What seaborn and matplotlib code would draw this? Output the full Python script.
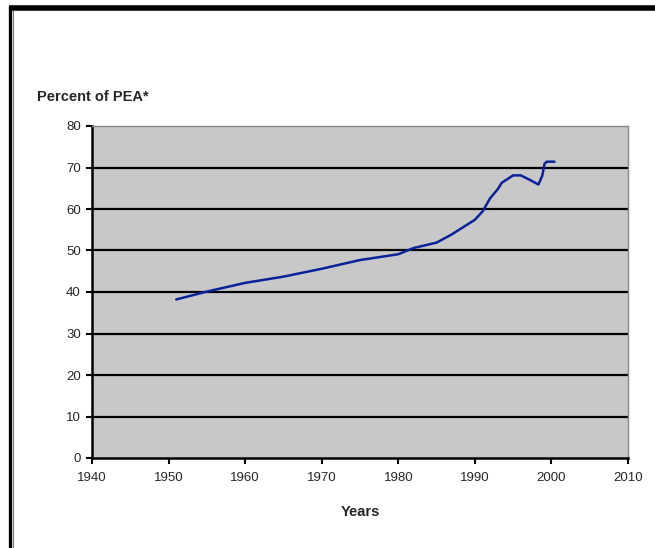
import matplotlib
matplotlib.use("Agg")
import matplotlib.pyplot as plt
from matplotlib.lines import Line2D
import seaborn as sns
import pandas as pd

years = [1951, 1955, 1960, 1965, 1970, 1975, 1980, 1982, 1985, 1987,
         1990, 1991, 1992, 1993, 1993.5, 1995, 1996, 1997.3, 1998.3,
         1998.8, 1999.1, 1999.4, 2000.4]
percent = [38.2, 40.1, 42.2, 43.7, 45.6, 47.7, 49.1, 50.6, 51.9, 53.9,
           57.4, 59.4, 62.6, 64.8, 66.3, 68.1, 68.1, 66.9, 65.9,
           68.0, 70.9, 71.4, 71.4]
x_ticks = [1940, 1950, 1960, 1970, 1980, 1990, 2000, 2010]
y_ticks = [0, 10, 20, 30, 40, 50, 60, 70, 80]

sns.set_style("white")
plt.rcParams['font.family'] = ['Liberation Sans', 'DejaVu Sans']

df = pd.DataFrame({"Years": years, "Percent": percent})

W, H = 655, 548
fig = plt.figure(figsize=(W / 100, H / 100), dpi=100)
ax = fig.add_axes([92 / W, 1 - 458 / H, (628 - 92) / W, (458 - 126) / H])
ax.set_facecolor("#C8C8C8")

for yv in y_ticks[1:-1]:
    ax.axhline(yv, color="black", lw=1.6, zorder=1)

sns.lineplot(data=df, x="Years", y="Percent", ax=ax, color="#0A2299",
             lw=1.8, zorder=3, sort=False)

ax.set_xlim(1940, 2010)
ax.set_ylim(0, 80)
ax.set_xticks(x_ticks)
ax.set_yticks(y_ticks)
ax.tick_params(axis="both", direction="out", length=4, width=1.5,
               color="black", labelsize=9.5, bottom=True, left=True)
ax.tick_params(axis="x", pad=6)
ax.tick_params(axis="y", pad=4)
ax.set_xlabel("Years", fontsize=10.5, fontweight="bold", labelpad=15)
ax.set_ylabel("")
for s in ["left", "bottom"]:
    ax.spines[s].set_color("black")
    ax.spines[s].set_linewidth(1.8)
for s in ["right", "top"]:
    ax.spines[s].set_color("#888888")
    ax.spines[s].set_linewidth(1.0)

fig.text(37 / W, 1 - 101 / H, "Percent of PEA*", fontsize=10.5,
         fontweight="bold", ha="left", va="baseline")

# frame border
fig.add_artist(Line2D([10 / W, 10 / W], [0, 1 - 5.5 / H], color="black",
                      lw=2.4, solid_capstyle="butt", transform=fig.transFigure))
fig.add_artist(Line2D([12.8 / W, 12.8 / W], [0, 1 - 10 / H], color="#777777",
                      lw=0.8, solid_capstyle="butt", transform=fig.transFigure))
fig.add_artist(Line2D([8.5 / W, 1], [1 - 7.5 / H, 1 - 7.5 / H], color="black",
                      lw=4, solid_capstyle="butt", transform=fig.transFigure))

fig.savefig("out.png", dpi=100)
